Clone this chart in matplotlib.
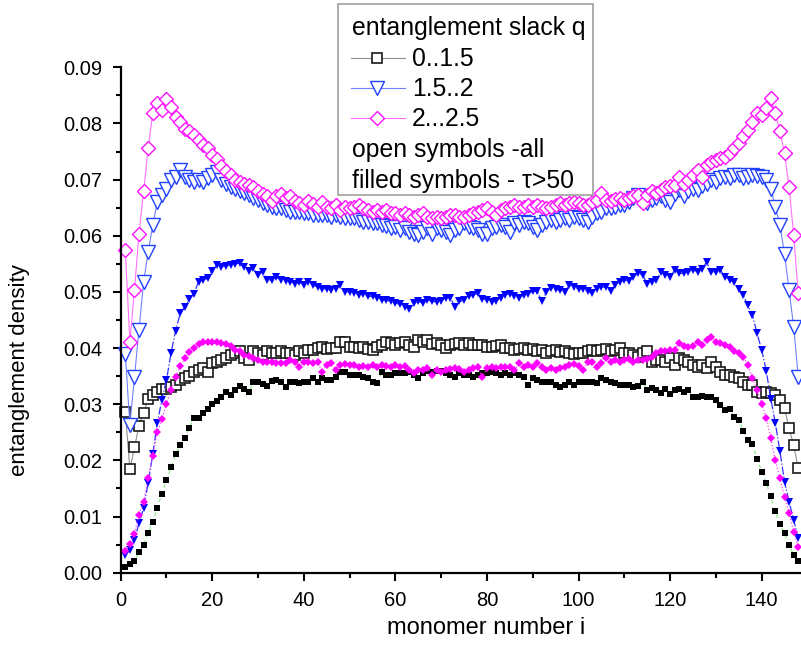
import numpy as np
import matplotlib
matplotlib.use("Agg")
import matplotlib.pyplot as plt
from matplotlib.lines import Line2D
from matplotlib.patches import Rectangle
from matplotlib.ticker import MultipleLocator, FormatStrFormatter

plt.rcParams['font.family'] = ['Liberation Sans', 'DejaVu Sans']

# values, in units of 1e-4
open_sq = [
    287, 184, 223, 262, 284, 309, 316, 322, 327, 328,
    331, 334, 343, 346, 350, 358, 361, 364, 358, 373,
    376, 379, 382, 388, 391, 394, 382, 379, 394, 391,
    388, 394, 391, 391, 394, 392, 391, 388, 394, 391,
    397, 397, 400, 402, 399, 400, 400, 411, 411, 402,
    402, 400, 402, 399, 397, 402, 406, 411, 409, 406,
    409, 410, 406, 402, 414, 411, 414, 408, 409, 406,
    400, 406, 408, 409, 406, 409, 406, 406, 406, 402,
    402, 404, 406, 400, 400, 397, 399, 400, 397, 398,
    394, 397, 391, 394, 397, 393, 394, 391, 390, 392,
    392, 395, 397, 394, 397, 398, 394, 397, 400, 391,
    391, 388, 384, 391, 394, 376, 379, 379, 376, 382,
    370, 382, 379, 376, 370, 367, 370, 364, 376, 367,
    358, 352, 352, 349, 346, 340, 334, 334, 322, 320,
    322, 320, 317, 308, 293, 257, 227, 186]

open_tri = [
    390, 263, 348, 432, 518, 571, 619, 660, 673, 684,
    699, 705, 717, 705, 699, 696, 699, 696, 702, 708,
    714, 699, 693, 687, 684, 680, 677, 673, 668, 663,
    658, 655, 652, 649, 649, 646, 643, 643, 643, 640,
    640, 637, 637, 637, 637, 634, 637, 634, 631, 631,
    631, 628, 625, 625, 622, 622, 619, 617, 613, 616,
    610, 613, 607, 604, 601, 607, 613, 604, 613, 610,
    607, 601, 610, 613, 622, 616, 613, 610, 604, 604,
    613, 616, 619, 616, 607, 622, 619, 625, 622, 616,
    610, 619, 625, 628, 625, 628, 631, 628, 634, 631,
    628, 625, 634, 640, 643, 649, 649, 652, 655, 655,
    661, 667, 672, 665, 658, 663, 667, 670, 664, 661,
    675, 681, 670, 679, 684, 682, 688, 693, 699, 696,
    702, 705, 703, 708, 708, 702, 705, 708, 706, 705,
    699, 684, 652, 619, 568, 503, 438, 349]

open_dia = [
    575, 411, 503, 604, 679, 756, 818, 836, 824, 843,
    830, 812, 803, 791, 786, 780, 771, 762, 756, 744,
    736, 724, 715, 709, 700, 695, 692, 690, 686, 680,
    674, 671, 662, 671, 674, 668, 671, 662, 658, 655,
    662, 656, 652, 660, 652, 649, 655, 646, 652, 649,
    652, 655, 649, 646, 643, 646, 643, 646, 640, 640,
    637, 640, 637, 634, 637, 640, 634, 631, 634, 631,
    634, 637, 637, 634, 634, 637, 640, 643, 646, 649,
    643, 637, 646, 649, 652, 655, 652, 652, 655, 652,
    655, 652, 649, 652, 655, 658, 655, 658, 661, 658,
    655, 655, 661, 664, 676, 664, 662, 666, 668, 664,
    668, 670, 673, 658, 673, 679, 676, 681, 687, 688,
    690, 705, 693, 699, 708, 717, 705, 726, 732, 735,
    738, 741, 747, 756, 765, 777, 789, 803, 818, 815,
    827, 845, 818, 786, 747, 687, 601, 498]

fill_sq = [
    11, 15, 21, 36, 49, 71, 91, 116, 141, 165,
    188, 211, 227, 240, 258, 275, 275, 284, 292, 300,
    305, 312, 321, 317, 325, 332, 328, 322, 339, 339,
    336, 332, 341, 344, 340, 330, 340, 340, 337, 340,
    340, 346, 340, 346, 344, 343, 349, 358, 358, 352,
    352, 352, 349, 346, 340, 338, 357, 352, 352, 355,
    355, 355, 357, 352, 346, 355, 360, 358, 360, 360,
    355, 352, 349, 355, 352, 352, 349, 352, 355, 355,
    357, 355, 352, 355, 352, 355, 352, 349, 334, 346,
    343, 340, 340, 340, 334, 331, 334, 340, 334, 340,
    340, 340, 340, 337, 346, 343, 340, 337, 334, 334,
    334, 331, 332, 340, 326, 329, 325, 320, 328, 318,
    326, 328, 322, 325, 313, 312, 314, 313, 312, 307,
    298, 290, 292, 277, 272, 253, 236, 229, 203, 180,
    160, 136, 109, 86, 70, 49, 32, 21]

fill_tri = [
    32, 40, 59, 88, 115, 160, 211, 267, 308, 343,
    392, 431, 462, 474, 487, 497, 518, 522, 524, 538,
    548, 544, 547, 548, 550, 551, 545, 538, 542, 530,
    536, 522, 521, 526, 521, 520, 518, 515, 518, 512,
    518, 512, 509, 505, 506, 503, 506, 512, 500, 500,
    498, 495, 497, 492, 492, 490, 486, 485, 483, 480,
    478, 474, 470, 480, 483, 480, 486, 483, 482, 484,
    490, 489, 474, 483, 485, 492, 494, 498, 488, 486,
    482, 484, 490, 495, 497, 492, 490, 494, 497, 501,
    501, 483, 500, 507, 505, 503, 500, 512, 508, 506,
    506, 501, 498, 506, 509, 508, 501, 512, 518, 521,
    520, 527, 533, 530, 515, 518, 521, 536, 530, 527,
    539, 533, 533, 536, 539, 536, 540, 554, 536, 536,
    539, 527, 521, 518, 506, 494, 476, 459, 426, 397,
    360, 310, 266, 216, 162, 126, 94, 61]

fill_dia = [
    39, 52, 69, 103, 126, 169, 208, 250, 273, 300,
    325, 348, 368, 382, 393, 400, 407, 410, 410, 411,
    410, 409, 407, 404, 397, 394, 388, 386, 382, 379,
    376, 376, 375, 374, 374, 374, 379, 376, 367, 376,
    376, 374, 376, 358, 370, 373, 361, 370, 372, 370,
    370, 367, 368, 367, 370, 367, 370, 368, 367, 370,
    367, 368, 361, 355, 361, 361, 364, 352, 361, 358,
    361, 362, 364, 362, 358, 361, 364, 367, 349, 364,
    367, 364, 367, 367, 367, 361, 373, 367, 370, 367,
    373, 367, 361, 364, 361, 364, 367, 370, 372, 368,
    361, 376, 376, 367, 373, 382, 376, 379, 376, 379,
    380, 376, 379, 379, 380, 384, 391, 394, 395, 397,
    397, 409, 403, 402, 403, 411, 406, 414, 420, 411,
    409, 406, 402, 394, 391, 384, 370, 346, 325, 301,
    276, 239, 200, 168, 135, 106, 73, 46]

labels = ["0..1.5", "1.5..2", "2...2.5"]

monomer = np.arange(1, len(fill_sq) + 1)

fig = plt.figure(figsize=(8.01, 6.54), dpi=100)
ax = fig.add_axes([0.1507, 0.1243, 0.8493, 0.7728])

open_styles = [
    dict(color='#909090', lw=0.8, marker='s', ms=7.6, mfc='white', mec='#1a1a1a', mew=1.2),
    dict(color='#7080ff', lw=0.8, marker='v', ms=9.4, mfc='white', mec='#2040ff', mew=1.0),
    dict(color='#ff70ff', lw=0.8, marker='D', ms=6.9, mfc='white', mec='#ff10ff', mew=1.0),
]
fill_styles = [
    dict(color='#90e890', lw=0.9, ls=(0, (3, 3)), marker='s', ms=4.5, mfc='black', mec='black', mew=0),
    dict(color='#3030ff', lw=0.9, ls='-.', marker='v', ms=5.4, mfc='#0000ff', mec='#0000ff', mew=0),
    dict(color='#ff40ff', lw=0.9, ls=':', marker='D', ms=3.9, mfc='#ff00ff', mec='#ff00ff', mew=0),
]

for y, st in zip([open_sq, open_tri, open_dia], open_styles):
    ax.plot(monomer, np.array(y) / 1e4, clip_on=False, **st)
for y, st in zip([fill_sq, fill_tri, fill_dia], fill_styles):
    ax.plot(monomer, np.array(y) / 1e4, clip_on=False, **st)

ax.set_xlim(0, 148.6)
ax.set_ylim(0, 0.09)
ax.xaxis.set_major_locator(MultipleLocator(20))
ax.xaxis.set_minor_locator(MultipleLocator(10))
ax.yaxis.set_major_locator(MultipleLocator(0.01))
ax.yaxis.set_minor_locator(MultipleLocator(0.005))
ax.yaxis.set_major_formatter(FormatStrFormatter('%.2f'))
ax.tick_params(which='major', direction='out', length=5.5, width=1.5, labelsize=14.5)
ax.tick_params(which='minor', direction='out', length=3.5, width=1.5)
ax.tick_params(axis='x', which='major', pad=8)
ax.tick_params(axis='y', which='major', pad=7.5)
for s in ['top', 'right']:
    ax.spines[s].set_visible(False)
for s in ['left', 'bottom']:
    ax.spines[s].set_linewidth(1.6)

fig.text(20 / 801, 1 - 370 / 654, 'entanglement density', rotation=90,
         ha='center', va='center', fontsize=16)
fig.text(486 / 801, 1 - 628 / 654, 'monomer number i',
         ha='center', va='center', fontsize=17)

# legend box
def fx(px):
    return px / 801

def fy(py):
    return 1 - py / 654

fig.add_artist(Rectangle((fx(338), fy(195)), fx(593) - fx(338), fy(4) - fy(195),
                         transform=fig.transFigure, fill=True, facecolor='white',
                         edgecolor='#a0a0a0', lw=1.2, zorder=5))
fig.text(fx(352), fy(35), 'entanglement slack q', fontsize=17.8, va='baseline', zorder=6)
for k, (lab, st) in enumerate(zip(labels, open_styles)):
    yc = 58 + 30 * k
    fig.add_artist(Line2D([fx(351), fx(405)], [fy(yc), fy(yc)], transform=fig.transFigure,
                          color=st['color'], lw=0.8, zorder=6))
    fig.add_artist(Line2D([fx(377)], [fy(yc)], transform=fig.transFigure, ls='none',
                          marker=st['marker'], ms=st['ms'], mfc='white',
                          mec=st['mec'], mew=st['mew'], zorder=7))
    fig.text(fx(412), fy(yc + 7.5), lab, fontsize=17.8, va='baseline', zorder=6)
fig.text(fx(352), fy(156.5), 'open symbols -all', fontsize=17.8, va='baseline', zorder=6)
fig.text(fx(352), fy(188), 'filled symbols - \u03c4>50', fontsize=17.8, va='baseline', zorder=6)

fig.savefig('out.png', dpi=100)
